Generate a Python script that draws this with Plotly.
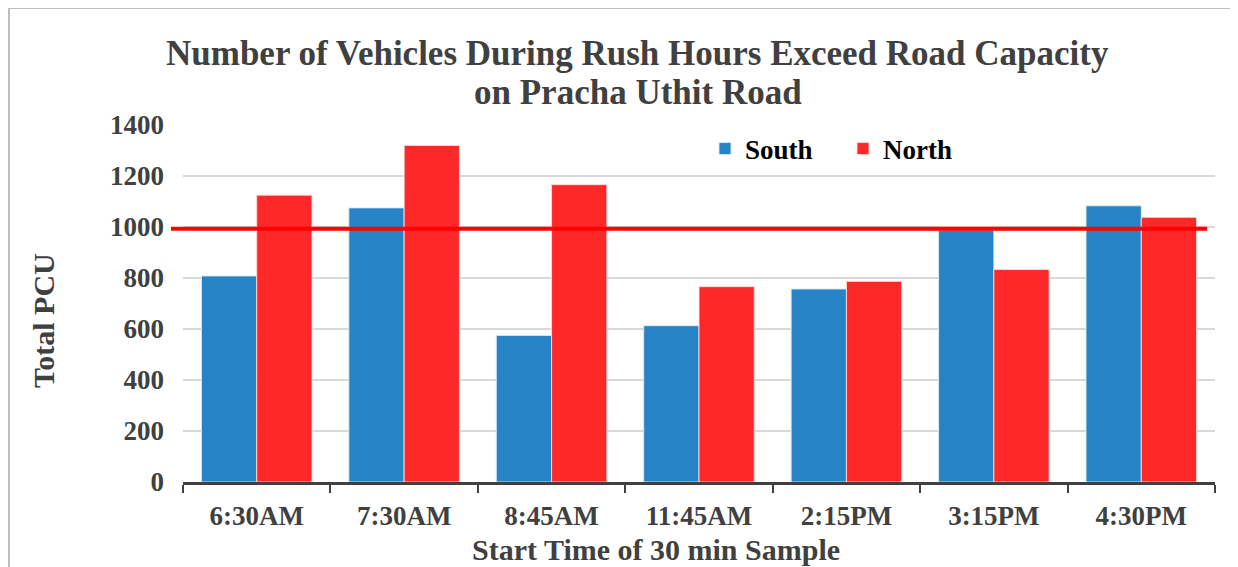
import plotly.graph_objects as go

categories = ["6:30AM", "7:30AM", "8:45AM", "11:45AM", "2:15PM", "3:15PM", "4:30PM"]
south = [808, 1075, 575, 613, 757, 988, 1083]
north = [1125, 1320, 1166, 766, 787, 833, 1038]
capacity = 993

# the page body adds an 8px offset; work in screen pixels and convert
OFF = 8
W, H = 1238 - OFF, 567 - OFF
PL, PR, PT, PB = 183, 1215, 125, 482          # plot area in screen px
L, R, T, B = PL - OFF, W - (PR - OFF), PT - OFF, H - (PB - OFF)
pw, ph = PR - PL, PB - PT


def sx(p):
    return (p - PL) / pw


def sy(p):
    return (PB - p) / ph


FONT = "Liberation Serif, Times New Roman, serif"
TXT = "#404040"

fig = go.Figure()
fig.add_trace(go.Bar(x=categories, y=south, name="South",
                     marker=dict(color="#2683c6", line=dict(color="rgba(220,235,250,0.9)", width=1))))
fig.add_trace(go.Bar(x=categories, y=north, name="North",
                     marker=dict(color="#ff2828", line=dict(color="rgba(255,220,220,0.9)", width=1))))

fig.update_layout(
    width=W, height=H,
    margin=dict(l=L, r=R, t=T, b=B, pad=0),
    paper_bgcolor="white", plot_bgcolor="white",
    barmode="group", bargap=0.25, bargroupgap=0,
    font=dict(family=FONT, color=TXT, size=22, weight=700),
    legend=dict(orientation="h", x=sx(705), y=sy(149), xanchor="left", yanchor="middle",
                font=dict(family=FONT, size=27, color="black", weight=700),
                bgcolor="rgba(0,0,0,0)", traceorder="normal", entrywidth=93),
    xaxis=dict(showline=True, linecolor=TXT, linewidth=2.5,
               ticks="outside", tickson="boundaries", ticklen=8, tickwidth=2, tickcolor=TXT,
               tickfont=dict(family=FONT, size=27, color=TXT, weight=700),
               showgrid=False, ticklabelstandoff=8),
    yaxis=dict(range=[0, 1400], dtick=200, showline=False, ticks="",
               gridcolor="#d9d9d9", gridwidth=1.5, zeroline=False,
               tickfont=dict(family=FONT, size=27, color=TXT, weight=700),
               ticklabelstandoff=18),
    showlegend=True,
)

title_lines = ["Number of Vehicles During Rush Hours Exceed Road Capacity", "on Pracha Uthit Road"]
for txt, yc in zip(title_lines, [53, 92]):
    fig.add_annotation(text=txt, xref="paper", yref="paper", x=sx(637.5), y=sy(yc),
                       xanchor="center", yanchor="middle", showarrow=False,
                       font=dict(family=FONT, size=35, color=TXT, weight=700))

fig.add_annotation(text="Start Time of 30 min Sample", xref="paper", yref="paper",
                   x=sx(656), y=sy(549), xanchor="center", yanchor="middle", showarrow=False,
                   font=dict(family=FONT, size=30, color=TXT, weight=700))
fig.add_annotation(text="Total PCU", xref="paper", yref="paper", textangle=-90,
                   x=sx(43), y=sy(321), xanchor="center", yanchor="middle", showarrow=False,
                   font=dict(family=FONT, size=30, color=TXT, weight=700))

# capacity line
fig.add_shape(type="line", xref="paper", yref="y", x0=sx(171), x1=sx(1207),
              y0=capacity, y1=capacity, line=dict(color="#ff0000", width=4))

# frame border (left and top edges)
fig.add_shape(type="line", xref="paper", yref="paper", x0=sx(9), x1=sx(9),
              y0=sy(7), y1=sy(600), line=dict(color="#bfbfbf", width=2))
fig.add_shape(type="line", xref="paper", yref="paper", x0=sx(8), x1=sx(1260),
              y0=sy(8), y1=sy(8), line=dict(color="#bfbfbf", width=2))

fig.write_html("out.html")
